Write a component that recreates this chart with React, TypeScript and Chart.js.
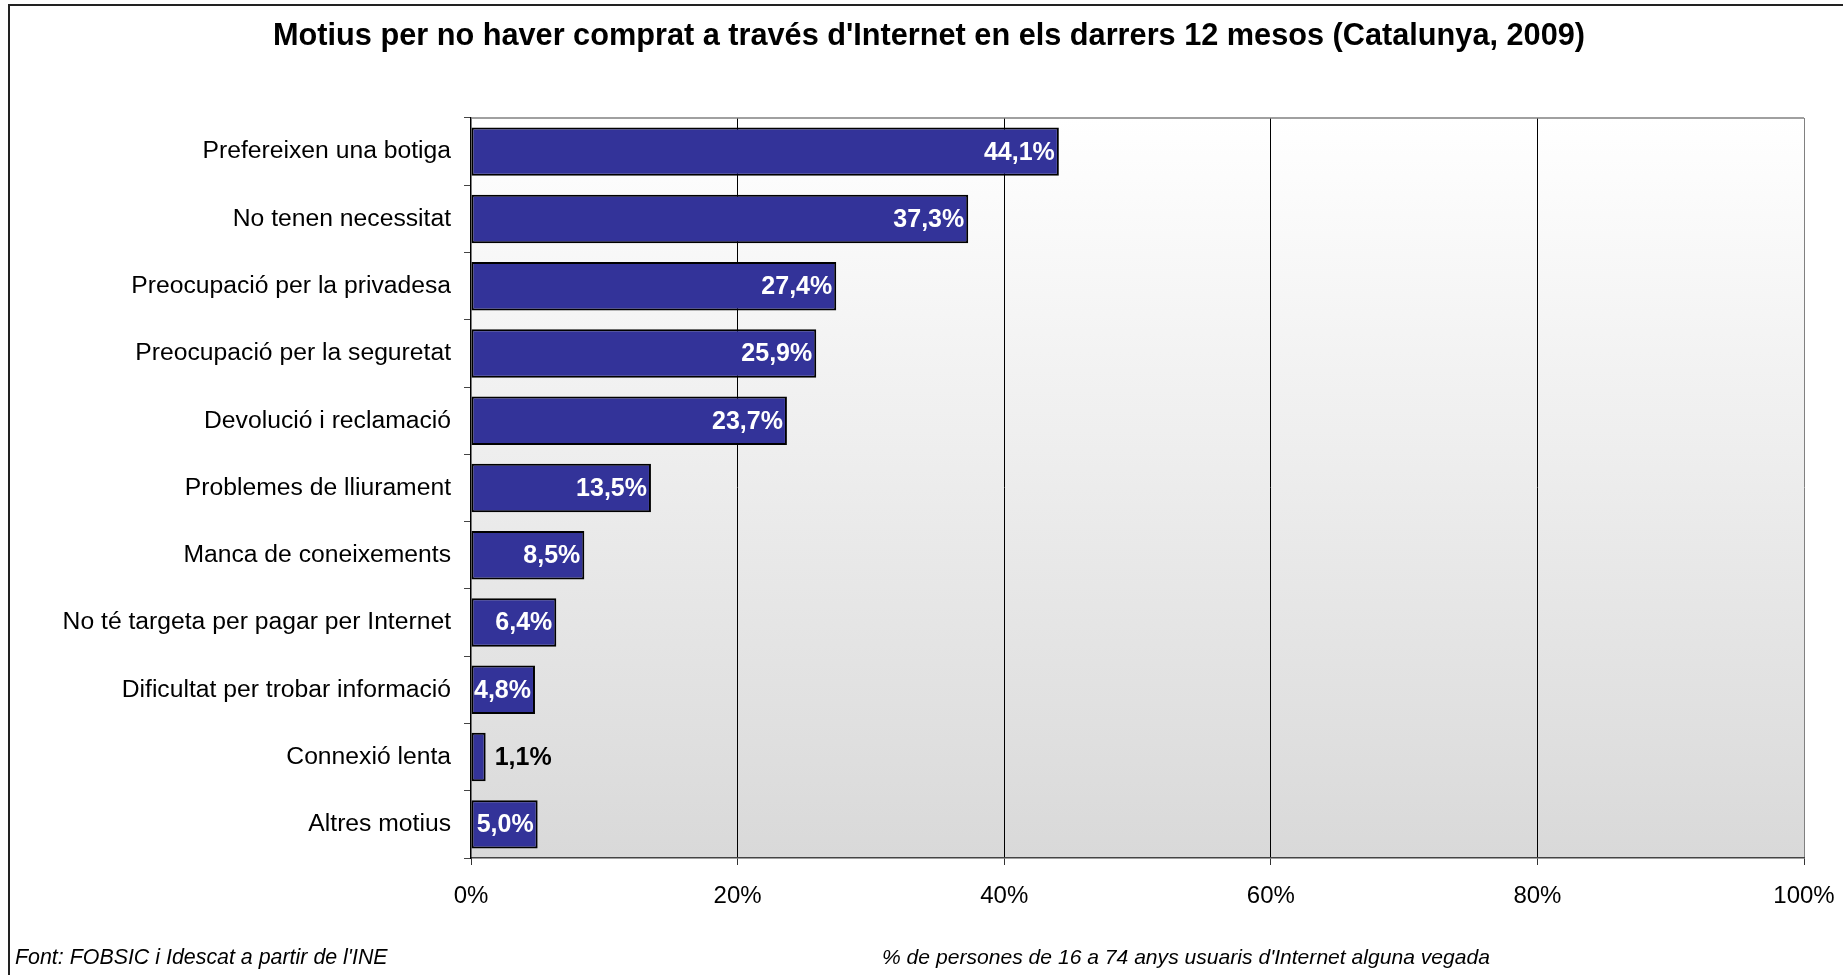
import React, { useEffect, useRef } from "react";
import { Chart, registerables } from "chart.js";

Chart.register(...registerables);

const TITLE = "Motius per no haver comprat a través d'Internet en els darrers 12 mesos (Catalunya, 2009)";
const SOURCE = "Font: FOBSIC i Idescat a partir de l'INE";
const NOTE = "% de persones de 16 a 74 anys usuaris d'Internet alguna vegada";

const categories = [
  "Prefereixen una botiga",
  "No tenen necessitat",
  "Preocupació per la privadesa",
  "Preocupació per la seguretat",
  "Devolució i reclamació",
  "Problemes de lliurament",
  "Manca de coneixements",
  "No té targeta per pagar per Internet",
  "Dificultat per trobar informació",
  "Connexió lenta",
  "Altres motius",
];
const values = [44.1, 37.3, 27.4, 25.9, 23.7, 13.5, 8.5, 6.4, 4.8, 1.1, 5.0];
const xTicks = [0, 20, 40, 60, 80, 100];

const FONT = "'Liberation Sans', Arial, sans-serif";

const decorPlugin = {
  id: "decor",
  beforeDraw(chart: any) {
    const { ctx, chartArea } = chart;
    const { left, right, top, bottom } = chartArea;
    ctx.save();
    const g = ctx.createLinearGradient(0, top, 0, bottom);
    g.addColorStop(0, "#ffffff");
    g.addColorStop(1, "#d9d9d9");
    ctx.fillStyle = g;
    ctx.fillRect(left, top, right - left, bottom - top);
    ctx.restore();
  },
  afterDraw(chart: any) {
    const { ctx, chartArea } = chart;
    const { left, right, top } = chartArea;
    ctx.save();
    ctx.strokeStyle = "#808080";
    ctx.lineWidth = 1.5;
    ctx.beginPath();
    ctx.moveTo(left, top);
    ctx.lineTo(right, top);
    ctx.stroke();
    ctx.strokeStyle = "#222";
    ctx.lineWidth = 2;
    ctx.beginPath();
    ctx.moveTo(9, 975);
    ctx.lineTo(9, 5);
    ctx.lineTo(1843, 5);
    ctx.stroke();
    ctx.fillStyle = "#000";
    ctx.font = `bold 30.7px ${FONT}`;
    ctx.textAlign = "center";
    ctx.textBaseline = "middle";
    ctx.fillText(TITLE, 929, 37);
    ctx.font = `italic 21.4px ${FONT}`;
    ctx.textAlign = "left";
    ctx.fillText(SOURCE, 15, 958);
    ctx.font = `italic 21.1px ${FONT}`;
    ctx.fillText(NOTE, 882, 958);
    ctx.restore();
  },
  afterDatasetsDraw(chart: any) {
    const { ctx } = chart;
    const meta = chart.getDatasetMeta(0);
    ctx.save();
    ctx.font = `bold 25px ${FONT}`;
    ctx.textBaseline = "middle";
    meta.data.forEach((bar: any, i: number) => {
      const v = values[i];
      const txt = v.toFixed(1).replace(".", ",") + "%";
      if (v > 3) {
        ctx.fillStyle = "#ffffff";
        ctx.textAlign = "right";
        ctx.fillText(txt, bar.x - 4, bar.y + 1);
      } else {
        ctx.fillStyle = "#000000";
        ctx.textAlign = "left";
        ctx.fillText(txt, bar.x + 9, bar.y + 1);
      }
    });
    ctx.restore();
  },
};

export default function App() {
  const ref = useRef<HTMLCanvasElement | null>(null);
  useEffect(() => {
    document.body.style.margin = "0";
    const canvas = ref.current!;
    const chart = new Chart(canvas, {
      type: "bar",
      data: {
        labels: categories,
        datasets: [
          {
            data: values,
            backgroundColor: "#333399",
            borderColor: "#000000",
            borderWidth: 2,
            borderSkipped: false,
            categoryPercentage: 1,
            barPercentage: 0.72,
          },
        ],
      },
      options: {
        indexAxis: "y",
        responsive: false,
        animation: false,
        devicePixelRatio: 1,
        layout: { padding: { top: 118, right: 39, bottom: 47, left: 0 } },
        plugins: {
          legend: { display: false },
          title: { display: false },
          tooltip: { enabled: false },
        },
        scales: {
          x: {
            min: 0,
            max: 100,
            afterBuildTicks: (scale: any) => {
              scale.ticks = xTicks.map((v) => ({ value: v }));
            },
            afterFit: (scale: any) => {
              scale.height = 70;
              scale.paddingLeft = 0;
              scale.paddingRight = 0;
            },
            ticks: {
              color: "#000",
              font: { family: FONT, size: 24 },
              padding: 17,
              callback: (v: any) => v + "%",
            },
            grid: {
              color: (c: any) =>
                c.tick && c.tick.value === 100 ? "#808080" : c.tick && c.tick.value === 0 ? "rgba(0,0,0,0)" : "#000",
              tickColor: "#333",
              tickLength: 7,
              lineWidth: 1,
            },
            border: { color: "#444", width: 1.5 },
          },
          y: {
            afterFit: (scale: any) => {
              scale.width = 471;
              scale.paddingTop = 0;
              scale.paddingBottom = 0;
            },
            ticks: {
              color: "#000",
              font: { family: FONT, size: 24.7 },
              padding: 13,
            },
            grid: {
              drawOnChartArea: false,
              drawTicks: true,
              tickLength: 7,
              offset: true,
              color: "#444",
            },
            border: { color: "#000", width: 1.5 },
          },
        },
      },
      plugins: [decorPlugin],
    });
    return () => chart.destroy();
  }, []);
  return (
    <canvas
      ref={ref}
      width={1843}
      height={975}
      style={{ display: "block", width: 1843, height: 975, background: "#fff" }}
    />
  );
}
